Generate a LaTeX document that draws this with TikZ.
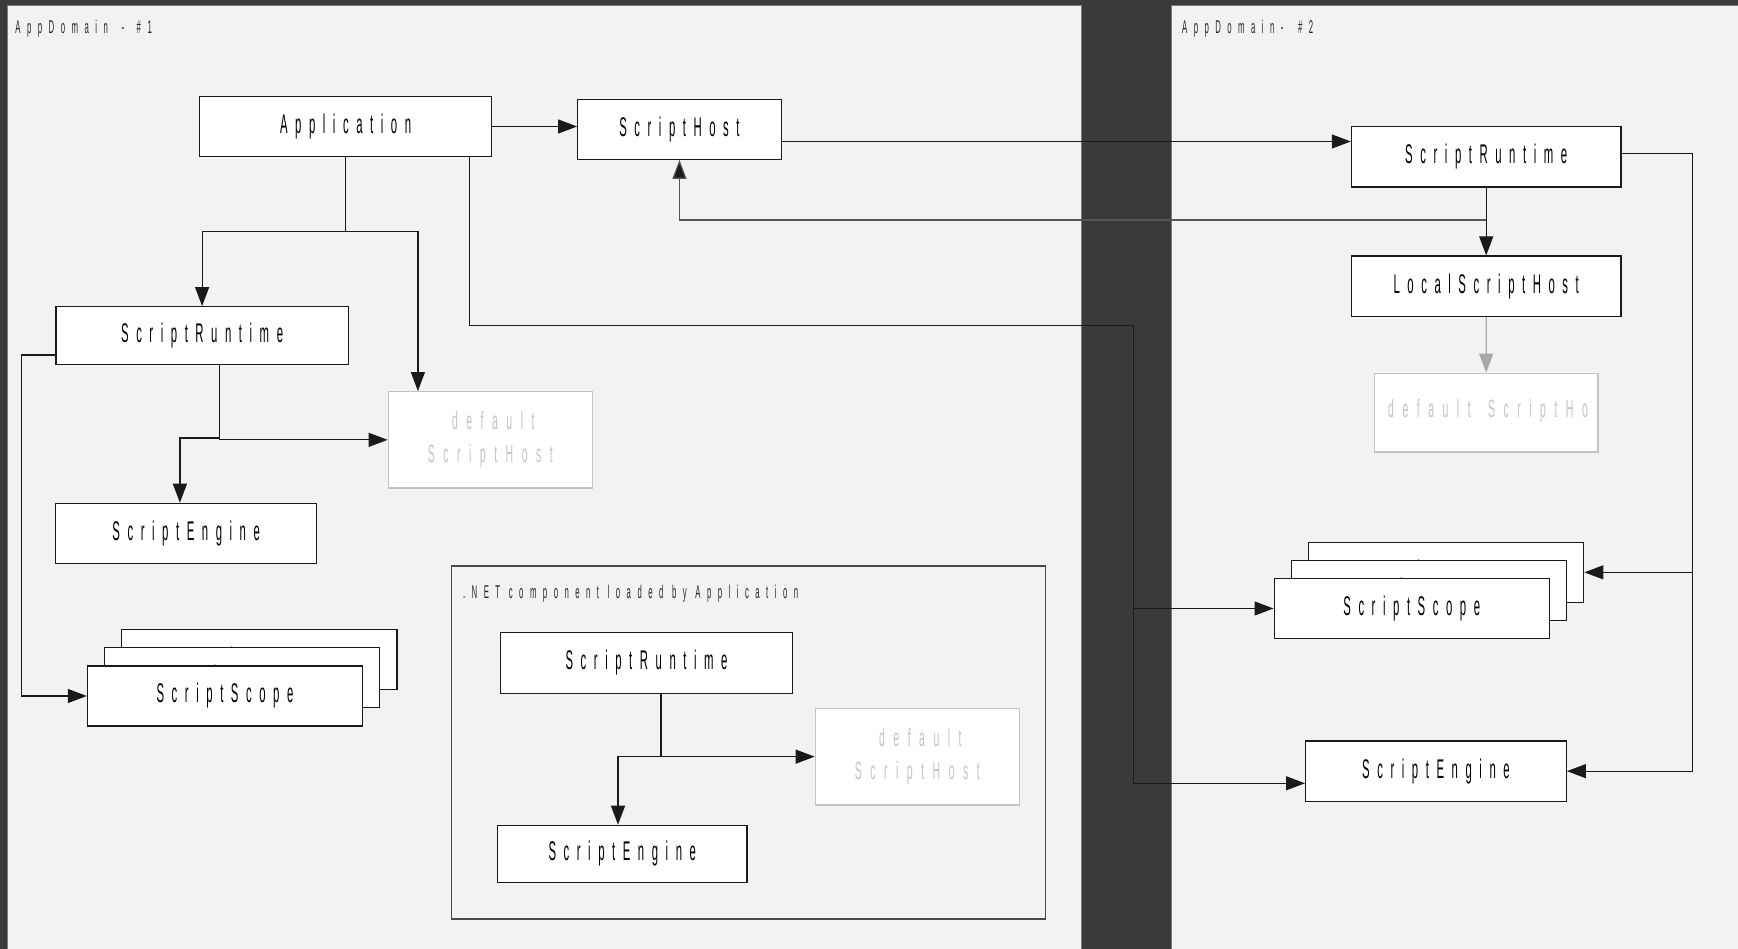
\documentclass[tikz,border=0pt]{standalone}
\usepackage{fontspec}
\usetikzlibrary{arrows.meta,calc}
\newfontfamily\nfont[FakeStretch=0.42,LetterSpace=28]{Liberation Sans}
\newfontfamily\gfont[FakeStretch=0.42,LetterSpace=34]{Liberation Sans}
\newfontfamily\lfont[FakeStretch=0.42,LetterSpace=35]{Liberation Sans}
\definecolor{bgdark}{HTML}{3A3A3A}
\definecolor{panel}{HTML}{F2F2F2}
\definecolor{panelline}{HTML}{7A7A7A}
\definecolor{boxline}{HTML}{1A1A1A}
\definecolor{ghost}{HTML}{C4C4C4}
\definecolor{ghostarrow}{HTML}{A8A8A8}
\definecolor{midline}{HTML}{555555}
\begin{document}
\begin{tikzpicture}[x=1pt,y=-1pt,
  box/.style={draw=boxline,fill=white,line width=1.2pt,inner sep=0pt,font=\nfont\fontsize{27}{30}\selectfont},
  ghostbox/.style={draw=ghost,fill=white,line width=1.3pt,inner sep=0pt,text=ghost,align=center,font=\gfont\fontsize{25}{33}\selectfont},
  lbl/.style={inner sep=0pt,anchor=base west,text=black!85,font=\lfont\fontsize{18.5}{22}\selectfont},
  arr/.style={draw=boxline,line width=1.2pt,-{Triangle[length=19pt,width=14pt]}},
  garr/.style={draw=ghostarrow,line width=1.2pt,-{Triangle[length=19pt,width=14pt]}},
  marr/.style={draw=midline,line width=1.2pt,-{Triangle[length=19pt,width=14pt,fill=boxline]}},
  pane/.style={fill=panel,draw=panelline,line width=1pt}]
\useasboundingbox (0,0) rectangle (1738,949);
\fill[bgdark] (0,0) rectangle (1738,949);
\path[pane] (7.7,6) rectangle (1081,960);
\path[pane] (1171,6) rectangle (1750,960);
\node[lbl] (lab1) at (15.3,33.3) {AppDomain\hspace{5pt} - \hspace{4pt}\#1};
\node[lbl] (lab2) at (1181.9,33.3) {AppDomain- \hspace{6pt}\#2};

% .NET component frame
\path[draw=boxline!80,line width=1.2pt] (451.3,566) rectangle (1045.1,919);
\node[lbl] (lab3) at (462.9,598.3) {.NET component loaded by Application};

% AppDomain 1 nodes
\node[box,minimum width=292.4pt,minimum height=60.4pt] (app) at (345.6,126.5) {Application};
\node[box,minimum width=203.5pt,minimum height=60pt] (sh) at (679.45,129.3) {ScriptHost};
\node[box,minimum width=292.4pt,minimum height=58pt] (srL) at (202.1,335.7) {ScriptRuntime};
\node[ghostbox,minimum width=204pt,minimum height=96.3pt] (dshL) at (490.3,439.85) {\hspace{6pt}default\\ScriptHost};
\node[box,minimum width=261pt,minimum height=60pt] (seL) at (186.2,533.3) {ScriptEngine};
\node[box,minimum width=275.2pt,minimum height=60pt] (scLb) at (259.4,659.4) {ScriptScope};
\node[box,minimum width=275.2pt,minimum height=60pt] (scLm) at (242.2,677.7) {ScriptScope};
\node[box,minimum width=275.2pt,minimum height=60pt] (scL) at (225,696) {ScriptScope};

% inner component
\node[box,minimum width=292.5pt,minimum height=60.6pt] (srN) at (646.55,663) {ScriptRuntime};
\node[ghostbox,minimum width=204.1pt,minimum height=96.7pt] (dshN) at (917.35,756.65) {\hspace{6pt}default\\ScriptHost};
\node[box,minimum width=249.5pt,minimum height=57.4pt] (seN) at (622.25,854) {ScriptEngine};

% AppDomain 2 nodes
\node[box,minimum width=269.6pt,minimum height=60.3pt] (srR) at (1486.2,156.85) {ScriptRuntime};
\node[box,minimum width=269.6pt,minimum height=60.3pt] (lsh) at (1486.2,286.15) {LocalScriptHost};
\node[draw=ghost,fill=white,line width=1.3pt,inner sep=0pt,minimum width=223.7pt,minimum height=78.7pt] (dshR) at (1486.15,412.65) {};
\begin{scope}
  \clip (dshR.south west) rectangle (dshR.north east);
  \node[inner sep=0pt,anchor=base west,text=ghost,font=\gfont\fontsize{25}{30}\selectfont] (dshRt) at (1388,418) {default\hspace{6pt} ScriptHost};
\end{scope}
\node[box,minimum width=275.3pt,minimum height=60.4pt] (scRb) at (1446.1,572.35) {ScriptScope};
\node[box,minimum width=275.3pt,minimum height=60.4pt] (scRm) at (1428.85,590.45) {ScriptScope};
\node[box,minimum width=275.3pt,minimum height=60.4pt] (scR) at (1411.75,608.5) {ScriptScope};
\node[box,minimum width=260.7pt,minimum height=60.3pt] (seR) at (1435.95,771.15) {ScriptEngine};

% junction coordinates
\coordinate (jA) at (345.6,231.7);
\coordinate (jB) at (1133.5,325.3);
\coordinate (jD) at (1486.2,220);
\coordinate (xR) at (1692.6,0);
\coordinate (xL) at (21.7,0);
\coordinate (jF) at (219.4,438);
\coordinate (jG) at (661,756.65);

% connectors AppDomain 1
\draw[arr] (app.east) -- (app.east -| sh.west);
\draw[arr] (app.south) -- (jA) -| (srL.north);
\draw[arr] (jA) -| ([xshift=-72.4pt]dshL.north);
\draw[arr] ([xshift=-23pt]app.south east) |- (jB) -- ([yshift=-12.15pt]seR.west -| jB) -- ([yshift=-12.15pt]seR.west);
\draw[arr] (scR.west -| jB) -- (scR.west);
\draw[arr] ([yshift=-19.3pt]srL.west) -| (scL.west -| xL) -- (scL.west);
\draw[arr] ([xshift=17.3pt]srL.south) |- (dshL.west);
\draw[arr] (jF) -| ([xshift=-6.3pt]seL.north);
\draw[arr] ([yshift=-12.2pt]sh.east) -- ([yshift=-12.2pt]sh.east -| srR.west);

% inner component connectors
\draw[arr] ([xshift=14.45pt]srN.south) |- (dshN.west);
\draw[arr] (jG) -| ([xshift=-4.25pt]seN.north);

% AppDomain 2 connectors
\draw[arr] (srR.south) -- (lsh.north);
\draw[marr] (jD) -| (sh.south);
\draw[garr] (lsh.south) -- (dshR.north);
\draw[arr] ([yshift=3.55pt]srR.east) -| (seR.east -| xR) -- (seR.east);
\draw[arr] (scRb.east -| xR) -- (scRb.east);
\end{tikzpicture}
\end{document}
